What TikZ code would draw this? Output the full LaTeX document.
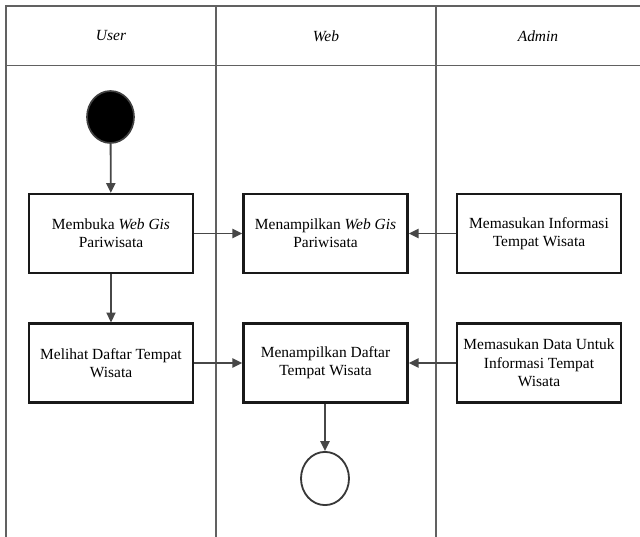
\documentclass[tikz,border=0pt]{standalone}
\usepackage{fontspec}
\setmainfont{Liberation Serif}
\usetikzlibrary{arrows.meta,positioning,shapes.geometric}

\begin{document}
\begin{tikzpicture}[x=0.025cm, y=-0.025cm,
  lane/.style={draw=black!62, line width=1.4pt},
  hdr/.style={font=\itshape\fontsize{11}{13}\selectfont},
  act/.style={draw=black!90, line width=1.7pt, fill=white,
              minimum width=4.1cm, minimum height=1.97cm,
              font=\fontsize{11}{13}\selectfont, align=center},
  initnode/.style={ellipse, draw=black!75, line width=1.2pt, fill=black,
                   minimum width=1.175cm, minimum height=1.3cm},
  finalnode/.style={ellipse, draw=black!78, line width=1.3pt, fill=white,
                    minimum width=1.2cm, minimum height=1.33cm},
  arr/.style={-{Triangle[length=7pt,width=6.5pt]}, draw=black!72, line width=1.3pt}
]
\useasboundingbox (0,0) rectangle (640,537);

%% Swimlane frame
\draw[lane] (6,537) -- (6,6) -- (640,6);
\draw[lane] (6,65.5) -- (640,65.5);
\draw[lane] (216,6) -- (216,537);
\draw[lane] (436,6) -- (436,537);

%% Lane headers
\node[hdr] (huser)  at (111,36) {User};
\node[hdr] (hweb)   at (326,36) {Web};
\node[hdr] (hadmin) at (538,36) {Admin};

%% Start
\node[initnode] (init) at (110.5,117) {};

%% First row
\node[act] (buka)   at (111,233.5)   {Membuka \textit{Web Gis}\\Pariwisata};
\node[act] (tampil) at (325.5,233.5) {Menampilkan \textit{Web Gis}\\Pariwisata};
\node[act] (info)   at (539,233.5)   {Memasukan Informasi\\Tempat Wisata};

%% Second row
\node[act] (lihat)  at (111,363)   {Melihat Daftar Tempat\\Wisata};
\node[act] (daftar) at (325.5,363) {Menampilkan Daftar\\Tempat Wisata};
\node[act] (data)   at (539,363)   {Memasukan Data Untuk\\Informasi Tempat\\Wisata};

%% End
\node[finalnode] (final) at (325,478.5) {};

%% Flows
\draw[arr] (init) -- (buka);
\draw[arr] (buka) -- (lihat);
\draw[arr] (buka) -- (tampil);
\draw[arr] (info) -- (tampil);
\draw[arr] (lihat) -- (daftar);
\draw[arr] (data) -- (daftar);
\draw[arr] (daftar.south -| final) -- (final);
\end{tikzpicture}
\end{document}
